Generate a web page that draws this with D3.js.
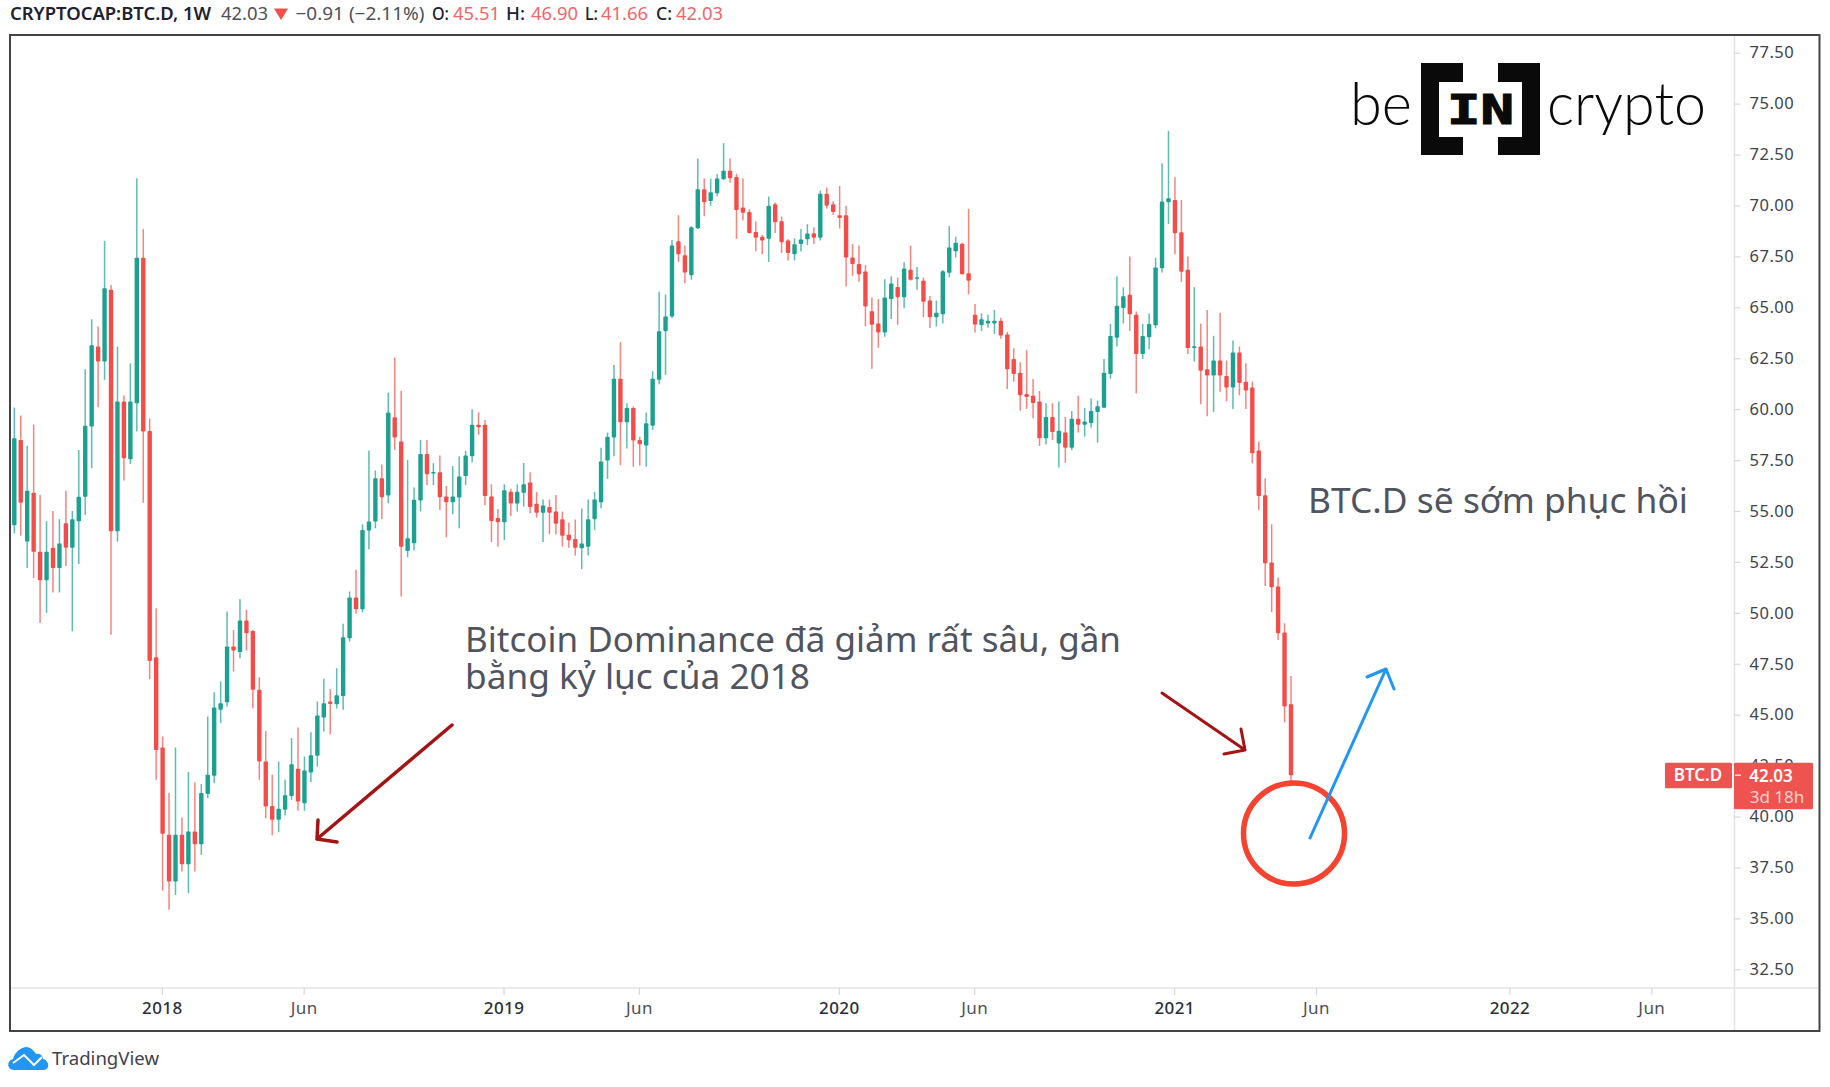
<!DOCTYPE html>
<html>
<head>
<meta charset="utf-8">
<title>BTC.D</title>
<script src="https://cdnjs.cloudflare.com/ajax/libs/d3/7.8.5/d3.min.js"></script>
<style>
    html, body { margin: 0; padding: 0; background: #fff; }
    svg { display: block; }
    text { font-family: "Noto Sans", sans-serif; }
</style>
</head>
<body>
<script>
// weekly candles, week 23 = first week of 2018
var opens = [
    54.3, 58.49, 53.5, 55.9, 53.0, 51.6, 53.2, 52.2, 54.4, 53.2,
    54.5, 55.7, 59.15, 63.07, 62.34, 65.86, 54.0, 60.37, 57.54, 60.29,
    67.43, 58.93, 47.82, 43.39, 39.1, 36.81, 39.1, 37.66, 39.26, 38.64,
    41.11, 42.0, 45.24, 45.61, 48.35, 48.08, 49.62, 49.11, 46.22, 42.7,
    40.52, 39.84, 40.33, 41.01, 42.34, 40.65, 42.16, 42.98, 44.86, 45.65,
    45.51, 45.92, 48.75, 50.75, 50.18, 54.04, 54.48, 56.61, 55.76, 59.6,
    58.41, 53.04, 53.42, 55.51, 57.8, 56.84, 56.9, 55.71, 55.43, 55.66,
    56.72, 57.69, 59.24, 59.24, 55.71, 54.66, 54.45, 55.94, 55.37, 55.89,
    56.4, 55.35, 54.91, 55.2, 54.97, 54.6, 53.84, 53.63, 53.17, 53.25,
    54.6, 55.43, 57.48, 58.61, 61.49, 59.36, 60.06, 58.49, 58.21, 59.19,
    61.44, 63.83, 64.55, 68.24, 67.56, 66.58, 68.88, 70.8, 70.22, 70.6,
    71.29, 71.71, 71.4, 69.9, 69.68, 68.7, 68.47, 68.36, 70.06, 69.23,
    68.28, 67.61, 68.11, 68.34, 68.64, 68.42, 70.58, 70.06, 69.52, 69.52,
    67.44, 67.13, 66.76, 64.81, 64.2, 63.76, 65.41, 66.0, 65.5, 66.84,
    66.41, 66.31, 65.33, 64.51, 64.66, 66.7, 67.75, 68.12, 66.67, 64.64,
    64.13, 64.21, 64.21, 64.34, 63.66, 62.46, 61.79, 60.74, 60.66, 60.37,
    58.57, 59.62, 58.32, 58.86, 58.11, 59.53, 59.24, 59.32, 59.86, 60.07,
    61.73, 63.51, 64.97, 65.62, 64.64, 62.71, 63.53, 64.12, 66.92, 70.16,
    70.27, 68.69, 66.84, 63.0, 63.07, 61.96, 61.65, 62.39, 61.63, 61.06,
    62.78, 61.35, 61.06, 57.97, 55.77, 52.47, 51.29, 49.03, 45.51
];
var highs = [
    60.08, 59.69, 58.2, 59.24, 55.8, 54.5, 55.0, 54.6, 56.0, 55.0,
    58.0, 61.96, 64.41, 64.06, 68.26, 66.1, 63.07, 60.67, 62.25, 71.34,
    68.85, 59.54, 50.23, 43.93, 41.15, 43.39, 39.95, 42.19, 41.67, 41.6,
    44.91, 46.1, 46.63, 50.06, 49.16, 50.67, 50.15, 49.16, 46.84, 44.2,
    42.05, 42.7, 41.8, 43.85, 44.37, 42.95, 44.14, 45.65, 46.77, 46.25,
    47.28, 49.46, 51.05, 52.11, 54.35, 57.97, 56.99, 57.28, 60.81, 62.53,
    60.9, 57.51, 56.15, 58.49, 58.49, 57.35, 57.72, 56.23, 57.21, 57.67,
    57.95, 60.0, 59.85, 59.47, 56.31, 55.1, 56.31, 56.09, 56.31, 57.36,
    56.9, 55.94, 55.56, 55.56, 55.79, 54.97, 54.43, 54.58, 55.12, 55.56,
    55.94, 58.11, 58.85, 62.17, 63.29, 60.29, 60.13, 58.64, 59.83, 61.86,
    65.77, 65.63, 68.31, 69.52, 68.03, 68.98, 72.3, 71.32, 71.32, 71.55,
    73.06, 72.3, 71.55, 71.32, 69.82, 69.21, 68.55, 70.44, 70.14, 69.46,
    68.34, 68.39, 68.85, 69.08, 68.93, 70.73, 70.88, 70.21, 70.96, 69.98,
    68.1, 68.03, 67.07, 65.48, 65.41, 66.38, 66.53, 66.46, 67.21, 68.03,
    66.98, 66.46, 65.56, 65.33, 66.83, 68.99, 68.47, 68.17, 69.83, 65.16,
    64.7, 64.64, 64.87, 64.49, 63.8, 62.99, 62.3, 62.9, 61.48, 60.89,
    60.29, 60.29, 60.37, 59.62, 59.91, 60.66, 60.06, 60.52, 60.43, 62.46,
    64.18, 66.52, 65.98, 67.49, 64.79, 64.18, 64.7, 67.43, 72.07, 73.66,
    71.39, 70.27, 67.49, 65.99, 64.2, 64.87, 63.6, 64.73, 62.39, 63.37,
    63.07, 62.25, 61.35, 58.41, 56.61, 54.35, 51.73, 49.49, 46.9
];
var lows = [
    53.9, 53.8, 52.2, 51.7, 49.5, 50.0, 51.0, 51.0, 52.3, 49.1,
    52.4, 54.8, 57.1, 60.09, 61.44, 48.92, 53.5, 56.5, 57.31, 58.9,
    55.4, 46.74, 41.8, 36.37, 35.42, 36.15, 37.3, 36.24, 37.3, 38.12,
    40.9, 41.64, 44.58, 45.4, 47.12, 47.77, 48.15, 45.32, 41.8, 39.92,
    39.08, 39.23, 40.05, 40.82, 40.28, 40.28, 41.69, 42.45, 44.17, 44.04,
    45.3, 45.24, 48.59, 49.95, 50.03, 53.12, 54.15, 54.61, 55.38, 58.0,
    50.8, 52.73, 53.06, 54.99, 56.27, 56.27, 55.05, 53.71, 54.84, 54.15,
    56.27, 57.39, 58.74, 55.28, 53.48, 53.25, 53.57, 54.76, 54.97, 55.22,
    54.89, 54.68, 53.48, 53.86, 53.86, 53.25, 53.19, 52.81, 52.14, 52.81,
    54.07, 55.14, 56.58, 57.69, 57.25, 58.07, 57.17, 57.23, 57.17, 58.98,
    61.22, 61.68, 64.48, 67.23, 66.18, 66.35, 68.85, 69.47, 69.99, 70.45,
    71.26, 71.11, 68.36, 69.26, 68.62, 67.75, 67.61, 67.23, 68.65, 67.67,
    67.3, 67.3, 67.74, 68.05, 68.11, 68.28, 69.85, 69.54, 68.87, 66.02,
    66.54, 66.25, 64.07, 61.98, 63.01, 63.55, 64.43, 64.14, 64.96, 66.31,
    65.86, 64.51, 63.99, 64.06, 64.2, 66.47, 67.44, 66.62, 65.64, 63.76,
    63.84, 64.0, 63.69, 63.46, 60.99, 61.35, 59.93, 60.01, 59.55, 58.19,
    58.27, 58.49, 57.14, 57.37, 57.98, 58.86, 58.65, 59.09, 58.36, 60.07,
    61.5, 63.07, 64.21, 63.84, 60.78, 62.46, 62.94, 63.97, 66.71, 69.09,
    67.61, 66.25, 62.71, 62.34, 60.24, 59.65, 59.87, 60.85, 60.39, 60.01,
    60.68, 60.01, 57.34, 55.05, 51.32, 50.03, 48.67, 44.63, 41.66
];
var closes = [
    58.57, 55.4, 56.0, 53.0, 51.6, 53.0, 52.2, 53.4, 53.2, 54.6,
    55.7, 59.18, 63.14, 62.34, 65.94, 54.0, 60.37, 57.59, 60.37, 67.43,
    58.9, 47.64, 43.27, 39.15, 36.81, 39.1, 37.66, 39.26, 38.64, 41.15,
    42.05, 45.35, 45.56, 48.35, 48.15, 49.62, 49.0, 46.22, 42.7, 40.49,
    39.84, 40.38, 41.05, 42.57, 40.74, 42.26, 43.01, 44.96, 45.56, 45.53,
    45.96, 48.8, 50.75, 50.18, 54.07, 54.48, 56.61, 55.68, 59.83, 58.61,
    53.25, 53.66, 55.55, 57.8, 56.81, 56.92, 55.68, 55.43, 55.71, 56.69,
    57.72, 59.24, 59.11, 55.74, 54.51, 54.45, 56.02, 55.37, 55.94, 56.31,
    55.2, 54.91, 55.27, 54.91, 54.38, 53.78, 53.57, 53.19, 53.4, 54.6,
    55.56, 57.43, 58.64, 61.49, 59.36, 60.06, 58.46, 58.28, 59.31, 61.49,
    63.83, 64.55, 68.03, 67.61, 66.71, 68.93, 70.8, 70.16, 70.65, 71.32,
    71.71, 71.34, 69.78, 69.64, 68.65, 68.42, 68.28, 69.98, 69.18, 68.2,
    67.67, 68.1, 68.33, 68.62, 68.42, 70.58, 69.99, 69.68, 69.39, 67.44,
    67.13, 66.62, 65.04, 64.14, 63.76, 65.48, 66.17, 65.5, 66.9, 66.35,
    66.48, 65.27, 64.51, 64.73, 66.77, 67.94, 68.17, 66.62, 66.31, 64.15,
    64.41, 64.34, 64.34, 63.61, 61.96, 61.73, 60.68, 60.6, 60.3, 58.57,
    59.62, 58.88, 58.94, 58.11, 59.53, 59.24, 59.39, 59.91, 60.14, 61.79,
    63.59, 65.08, 65.54, 64.66, 62.71, 63.59, 64.18, 66.96, 70.19, 70.35,
    68.64, 66.75, 63.0, 63.09, 61.89, 61.65, 62.39, 61.65, 61.06, 62.78,
    61.29, 60.91, 57.83, 55.74, 52.43, 51.26, 49.0, 45.4, 42.03
];

var price_ticks = [32.5, 35, 37.5, 40, 42.5, 45, 47.5, 50, 52.5, 55, 57.5, 60, 62.5, 65, 67.5, 70, 72.5, 75, 77.5];
var time_ticks = [23, 45, 76, 97, 128, 149, 180, 202, 232, 254];
var time_labels = ["2018", "Jun", "2019", "Jun", "2020", "Jun", "2021", "Jun", "2022", "Jun"];

var width = 1830;
var height = 1087;

var green = "#1aa08f";
var red = "#f44e4a";
var text_dark = "#2a2e39";
var text_mid = "#4c505b";
var axis_grey = "#e3e3e3";

var frame_left = 10;
var frame_top = 35;
var frame_right = 1819.5;
var frame_bottom = 1031;
var axis_x = 1734.5;
var axis_y = 988;

var x = d3.scaleLinear().domain([0, 198]).range([14.3, 1291]);
var y = d3.scaleLinear().domain([32.5, 77.5]).range([969.3, 52.7]);

var svg = d3.select("body")
    .append("svg")
    .attr("width", width)
    .attr("height", height);

var defs = svg.append("defs");
defs.append("filter")
    .attr("id", "soft")
    .attr("x", "-5%").attr("y", "-5%").attr("width", "110%").attr("height", "110%")
    .append("feGaussianBlur")
    .attr("stdDeviation", 0.35);

// header line
var header = svg.append("g").attr("font-size", 17.5);

function head_text(label, xpos, len, color, weight) {
    header.append("text")
        .attr("x", xpos)
        .attr("y", 20)
        .attr("fill", color)
        .attr("font-weight", weight)
        .attr("textLength", len)
        .attr("lengthAdjust", "spacingAndGlyphs")
        .text(label);
}

head_text("CRYPTOCAP:BTC.D, 1W", 10, 201, "#1d2230", 600);
head_text("42.03", 221, 47, text_mid, 400);
head_text("\u22120.91 (\u22122.11%)", 295.5, 129, text_mid, 400);
head_text("O:", 432, 17, "#1d2230", 500);
head_text("45.51", 453, 47, "#f0666a", 400);
head_text("H:", 506, 19, "#1d2230", 500);
head_text("46.90", 531, 47, "#f0666a", 400);
head_text("L:", 585, 13, "#1d2230", 500);
head_text("41.66", 601, 47, "#f0666a", 400);
head_text("C:", 656, 16, "#1d2230", 500);
head_text("42.03", 676, 47, "#f0666a", 400);

header.append("path")
    .attr("d", "M274 8.5 L288 8.5 L281 20 Z")
    .attr("fill", red);

// axis rules under the frame
svg.append("line")
    .attr("x1", axis_x).attr("x2", axis_x)
    .attr("y1", frame_top).attr("y2", frame_bottom)
    .attr("stroke", axis_grey).attr("stroke-width", 1.5);
svg.append("line")
    .attr("x1", frame_left).attr("x2", frame_right)
    .attr("y1", axis_y).attr("y2", axis_y)
    .attr("stroke", axis_grey).attr("stroke-width", 1.5);

var price_axis = svg.append("g")
    .attr("transform", "translate(" + axis_x + ",0)")
    .call(d3.axisRight(y)
        .tickValues(price_ticks)
        .tickSize(6)
        .tickPadding(9)
        .tickFormat(d3.format(".2f")));
price_axis.select(".domain").remove();
price_axis.selectAll("line").attr("stroke", "#d8d8d8").attr("stroke-width", 1.2);
price_axis.selectAll("text")
    .attr("font-size", 16.5)
    .attr("letter-spacing", 0.5)
    .attr("fill", "#3f434e")
    .style("font-family", "'Noto Sans', sans-serif");

var time_axis = svg.append("g")
    .attr("transform", "translate(-0.8," + axis_y + ")")
    .call(d3.axisBottom(x)
        .tickValues(time_ticks)
        .tickSize(7)
        .tickPadding(7)
        .tickFormat(function(d, i) { return time_labels[i]; }));
time_axis.select(".domain").remove();
time_axis.selectAll("line").attr("stroke", "#d8d8d8").attr("stroke-width", 1.2);
time_axis.selectAll("text")
    .attr("font-size", 17)
    .attr("letter-spacing", 0.4)
    .attr("font-weight", function(d, i) { return time_labels[i] == "Jun" ? 400 : 500; })
    .attr("fill", function(d, i) { return time_labels[i] == "Jun" ? "#4c505b" : text_dark; })
    .style("font-family", "'Noto Sans', sans-serif");

// candles
var candles = svg.append("g").attr("filter", "url(#soft)");

var rows = d3.range(opens.length).map(function(i) {
    return { i: i, o: opens[i], h: highs[i], l: lows[i], c: closes[i] };
});

function candle_color(d) {
    return d.c >= d.o ? green : red;
}

candles.selectAll(".wick")
    .data(rows)
    .enter()
    .append("line")
    .attr("class", "wick")
    .attr("x1", function(d) { return x(d.i); })
    .attr("x2", function(d) { return x(d.i); })
    .attr("y1", function(d) { return y(d.h); })
    .attr("y2", function(d) { return y(d.l); })
    .attr("stroke", candle_color)
    .attr("stroke-opacity", 0.7)
    .attr("stroke-width", 1.5);

candles.selectAll(".body")
    .data(rows)
    .enter()
    .append("rect")
    .attr("class", "body")
    .attr("x", function(d) { return x(d.i) - 2.2; })
    .attr("y", function(d) { return y(Math.max(d.o, d.c)); })
    .attr("width", 4.4)
    .attr("height", function(d) { return Math.max(1.5, Math.abs(y(d.o) - y(d.c))); })
    .attr("rx", 0.8)
    .attr("fill", candle_color);

// frame
svg.append("rect")
    .attr("x", frame_left).attr("y", frame_top)
    .attr("width", frame_right - frame_left)
    .attr("height", frame_bottom - frame_top)
    .attr("fill", "none")
    .attr("stroke", "#444")
    .attr("stroke-width", 2);

// last price labels
var last_y = y(closes[closes.length - 1]);
var price_tag = svg.append("g").attr("text-anchor", "middle");

price_tag.append("rect")
    .attr("x", 1665).attr("y", last_y - 12.5)
    .attr("width", 67).attr("height", 25.5)
    .attr("rx", 1.5)
    .attr("fill", "#ef5350");
price_tag.append("rect")
    .attr("x", 1734).attr("y", last_y - 12.5)
    .attr("width", 79).attr("height", 46.5)
    .attr("rx", 1.5)
    .attr("fill", "#ef5350");
price_tag.append("line")
    .attr("x1", 1735).attr("x2", 1741)
    .attr("y1", last_y).attr("y2", last_y)
    .attr("stroke", "#fff").attr("stroke-width", 1.2);
price_tag.append("text")
    .attr("x", 1698).attr("y", last_y + 6)
    .attr("font-size", 17).attr("font-weight", 600)
    .attr("fill", "#fff")
    .text("BTC.D");
price_tag.append("text")
    .attr("x", 1771).attr("y", last_y + 6.5)
    .attr("font-size", 17).attr("font-weight", 600)
    .attr("fill", "#fff")
    .text("42.03");
price_tag.append("text")
    .attr("x", 1777).attr("y", last_y + 28)
    .attr("font-size", 17)
    .attr("fill", "#fbd3d2")
    .text("3d 18h");

// notes on the chart
var notes = svg.append("g").attr("font-size", 35).attr("fill", "#50545f");

notes.append("text")
    .attr("x", 465).attr("y", 652)
    .attr("textLength", 656).attr("lengthAdjust", "spacingAndGlyphs")
    .text("Bitcoin Dominance đã giảm rất sâu, gần");
notes.append("text")
    .attr("x", 465).attr("y", 689)
    .attr("textLength", 345).attr("lengthAdjust", "spacingAndGlyphs")
    .text("bằng kỷ lục của 2018");
notes.append("text")
    .attr("x", 1308).attr("y", 513)
    .attr("textLength", 380).attr("lengthAdjust", "spacingAndGlyphs")
    .text("BTC.D sẽ sớm phục hồi");

var marks = svg.append("g")
    .attr("fill", "none")
    .attr("stroke-linecap", "round")
    .attr("stroke-linejoin", "round");

marks.append("path")
    .attr("d", "M452 725 L317 839 M318 820 L317 839 L337 842")
    .attr("stroke", "#a51414")
    .attr("stroke-width", 3.5);
marks.append("path")
    .attr("d", "M1162 693 L1245 750 M1241 729 L1245 750 L1224 754")
    .attr("stroke", "#a51414")
    .attr("stroke-width", 3);
marks.append("circle")
    .attr("cx", 1294).attr("cy", 833.5).attr("r", 50.5)
    .attr("stroke", "#f44331")
    .attr("stroke-width", 5.5);
marks.append("path")
    .attr("d", "M1310 838 L1386 669 M1367 677 L1386 669 L1394 689")
    .attr("stroke", "#2196f3")
    .attr("stroke-width", 3);

// beincrypto logo
var logo = svg.append("g").attr("fill", "#0a0a0a");

logo.append("text")
    .attr("x", 1350).attr("y", 125)
    .attr("font-size", 60).attr("font-weight", 300)
    .attr("textLength", 62).attr("lengthAdjust", "spacingAndGlyphs")
    .style("font-family", "Lato, sans-serif")
    .text("be");
logo.append("text")
    .attr("x", 1547).attr("y", 125)
    .attr("font-size", 60).attr("font-weight", 300)
    .attr("textLength", 159).attr("lengthAdjust", "spacingAndGlyphs")
    .style("font-family", "Lato, sans-serif")
    .text("crypto");
logo.append("path")
    .attr("d", "M1421 63 H1463 V82 H1439 V137 H1463 V155 H1421 Z M1540 63 H1498 V82 H1522 V137 H1498 V155 H1540 Z");
logo.append("text")
    .attr("x", 1447).attr("y", 124)
    .attr("font-size", 41).attr("font-weight", 700)
    .attr("stroke", "#0a0a0a").attr("stroke-width", 1.2)
    .attr("textLength", 67).attr("lengthAdjust", "spacingAndGlyphs")
    .style("font-family", "'DejaVu Sans Mono', monospace")
    .text("IN");

// tradingview mark
var tv = svg.append("g");

tv.append("path")
    .attr("d", "M14 1070 C7 1070 6 1061 13 1059 C15 1052 20 1048 26 1047 C31 1047 34 1051 36 1054 C40 1053 43 1056 43 1059 C49 1060 51 1070 43 1070 Z")
    .attr("fill", "#2196f3");
tv.append("path")
    .attr("d", "M13 1063 L24 1055 L34 1065 L42 1057")
    .attr("fill", "none")
    .attr("stroke", "#fff")
    .attr("stroke-width", 2);
tv.append("text")
    .attr("x", 52).attr("y", 1065)
    .attr("font-size", 18)
    .attr("fill", "#3f434e")
    .attr("textLength", 107).attr("lengthAdjust", "spacingAndGlyphs")
    .text("TradingView");
</script>
</body>
</html>
